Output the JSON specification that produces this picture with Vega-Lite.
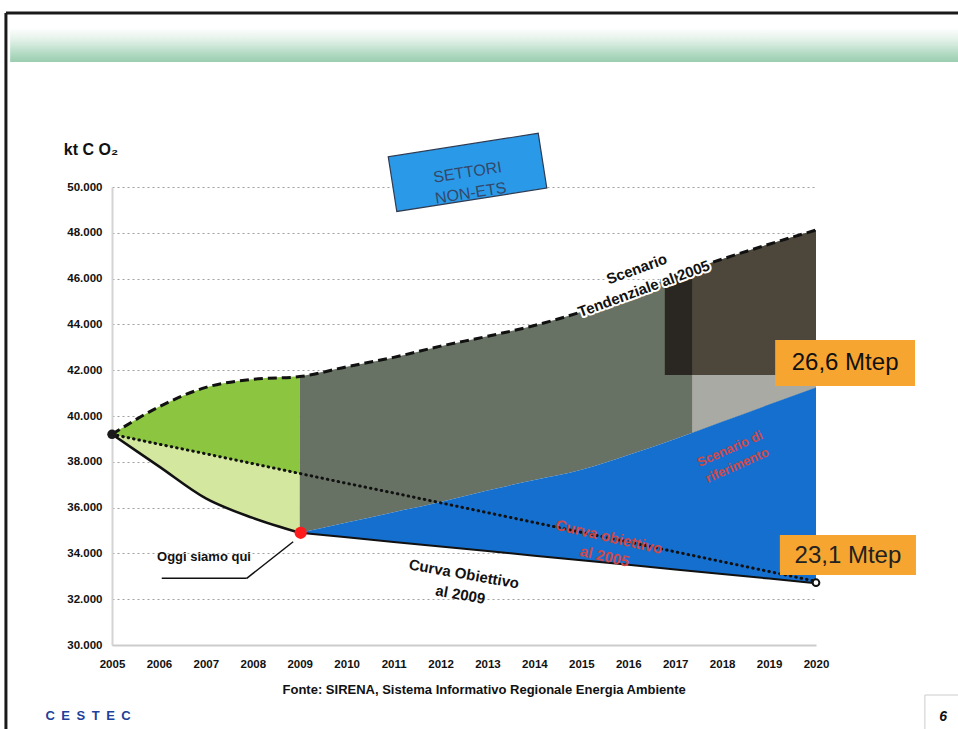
{
  "$schema": "https://vega.github.io/schema/vega-lite/v6.json",
  "width": 704,
  "height": 458,
  "autosize": {"type": "none"},
  "padding": {"left": 112, "top": 187, "right": 142, "bottom": 84},
  "background": "white",
  "config": {"view": {"stroke": null}, "font": "Liberation Sans"},
  "datasets": {
    "series": [
      {"year": 2005, "tend": 39200, "curve": 39200, "ob05": 39200},
      {"year": 2006, "tend": 40400, "curve": 37800, "ob05": 38770},
      {"year": 2007, "tend": 41250, "curve": 36400, "ob05": 38350},
      {"year": 2008, "tend": 41600, "curve": 35550, "ob05": 37920},
      {"year": 2009, "tend": 41720, "curve": 34900, "ob05": 37490, "ob09": 34900, "rif": 34900},
      {"year": 2010, "tend": 42150, "ob05": 37060, "ob09": 34700, "rif": 35350},
      {"year": 2011, "tend": 42560, "ob05": 36640, "ob09": 34500, "rif": 35800},
      {"year": 2012, "tend": 43050, "ob05": 36210, "ob09": 34300, "rif": 36250},
      {"year": 2013, "tend": 43480, "ob05": 35780, "ob09": 34100, "rif": 36750},
      {"year": 2014, "tend": 43950, "ob05": 35350, "ob09": 33900, "rif": 37200},
      {"year": 2015, "tend": 44550, "ob05": 34920, "ob09": 33700, "rif": 37650},
      {"year": 2016, "tend": 45300, "ob05": 34500, "ob09": 33500, "rif": 38300},
      {"year": 2017, "tend": 46150, "ob05": 34070, "ob09": 33300, "rif": 39000},
      {"year": 2018, "tend": 46850, "ob05": 33640, "ob09": 33100, "rif": 39750},
      {"year": 2019, "tend": 47500, "ob05": 33210, "ob09": 32900, "rif": 40500},
      {"year": 2020, "tend": 48120, "ob05": 32780, "ob09": 32700, "rif": 41250}
    ],
    "darkhatch": [
      {"year": 2016.78, "top": 45960, "bottom": 41790},
      {"year": 2017, "top": 46150, "bottom": 41790},
      {"year": 2018, "top": 46850, "bottom": 41790},
      {"year": 2019, "top": 47500, "bottom": 41790},
      {"year": 2020, "top": 48120, "bottom": 41790}
    ],
    "darkstrip": [
      {"year": 2016.78, "top": 45960, "bottom": 41790},
      {"year": 2017, "top": 46150, "bottom": 41790},
      {"year": 2017.36, "top": 46400, "bottom": 41790}
    ],
    "lighthatch": [
      {"year": 2017.36, "top": 41790, "bottom": 39270},
      {"year": 2018, "top": 41790, "bottom": 39750},
      {"year": 2019, "top": 41790, "bottom": 40500},
      {"year": 2020, "top": 41790, "bottom": 41250}
    ]
  },
  "layer": [
    {
      "data": {"name": "series"},
      "transform": [{"filter": "datum.year <= 2009"}],
      "mark": {"type": "area", "interpolate": "monotone", "color": "#d4e79e", "opacity": 1},
      "encoding": {
        "x": {
          "field": "year", "type": "quantitative",
          "scale": {"domain": [2005, 2020], "nice": false, "zero": false},
          "axis": {
            "values": [2005, 2006, 2007, 2008, 2009, 2010, 2011, 2012, 2013, 2014, 2015, 2016, 2017, 2018, 2019, 2020],
            "format": "d", "title": null, "grid": false, "ticks": false,
            "labelFontWeight": "bold", "labelFontSize": 11.5, "labelColor": "#111111",
            "labelPadding": 13, "domainColor": "#cccccc", "domainWidth": 2, "labelFlush": false
          }
        },
        "y": {
          "field": "ob05", "type": "quantitative",
          "scale": {"domain": [30000, 50000], "nice": false, "zero": false},
          "axis": {
            "values": [30000, 32000, 34000, 36000, 38000, 40000, 42000, 44000, 46000, 48000, 50000],
            "labelExpr": "replace(format(datum.value, ','), ',', '.')",
            "title": null, "grid": true, "gridColor": "#a0a0a0", "gridDash": [2, 3], "gridWidth": 1,
            "ticks": false, "labelFontWeight": "bold", "labelFontSize": 11.5, "labelColor": "#111111",
            "labelPadding": 10, "domainColor": "#d4d4d4", "domainWidth": 2
          }
        },
        "y2": {"field": "curve"}
      }
    },
    {
      "data": {"name": "series"},
      "transform": [{"filter": "datum.year <= 2009"}],
      "mark": {"type": "area", "interpolate": "monotone", "color": "#8cc540", "opacity": 1},
      "encoding": {
        "x": {"field": "year", "type": "quantitative"},
        "y": {"field": "tend", "type": "quantitative"},
        "y2": {"field": "ob05"}
      }
    },
    {
      "data": {"name": "series"},
      "transform": [{"filter": "datum.year >= 2009"}],
      "mark": {"type": "area", "interpolate": "monotone", "color": "#687264", "opacity": 1},
      "encoding": {
        "x": {"field": "year", "type": "quantitative"},
        "y": {"field": "tend", "type": "quantitative"},
        "y2": {"field": "rif"}
      }
    },
    {
      "data": {"name": "darkhatch"},
      "mark": {"type": "area", "color": "#4c463b", "opacity": 1},
      "encoding": {
        "x": {"field": "year", "type": "quantitative"},
        "y": {"field": "top", "type": "quantitative"},
        "y2": {"field": "bottom"}
      }
    },
    {
      "data": {"name": "darkstrip"},
      "mark": {"type": "area", "color": "#2a2722", "opacity": 1},
      "encoding": {
        "x": {"field": "year", "type": "quantitative"},
        "y": {"field": "top", "type": "quantitative"},
        "y2": {"field": "bottom"}
      }
    },
    {
      "data": {"name": "lighthatch"},
      "mark": {"type": "area", "color": "#a9aaa3", "opacity": 1},
      "encoding": {
        "x": {"field": "year", "type": "quantitative"},
        "y": {"field": "top", "type": "quantitative"},
        "y2": {"field": "bottom"}
      }
    },
    {
      "data": {"name": "series"},
      "transform": [{"filter": "datum.year >= 2009"}],
      "mark": {"type": "area", "interpolate": "monotone", "color": "#156fce", "opacity": 1},
      "encoding": {
        "x": {"field": "year", "type": "quantitative"},
        "y": {"field": "rif", "type": "quantitative"},
        "y2": {"field": "ob09"}
      }
    },
    {
      "data": {"name": "series"},
      "mark": {"type": "line", "color": "#111111", "strokeWidth": 3, "strokeDash": [0.5, 5], "strokeCap": "round"},
      "encoding": {
        "x": {"field": "year", "type": "quantitative"},
        "y": {"field": "ob05", "type": "quantitative"}
      }
    },
    {
      "data": {"name": "series"},
      "mark": {"type": "line", "interpolate": "monotone", "color": "#111111", "strokeWidth": 3, "strokeDash": [9, 5]},
      "encoding": {
        "x": {"field": "year", "type": "quantitative"},
        "y": {"field": "tend", "type": "quantitative"}
      }
    },
    {
      "data": {"name": "series"},
      "transform": [{"filter": "datum.year <= 2009"}],
      "mark": {"type": "line", "interpolate": "monotone", "color": "#111111", "strokeWidth": 2.5},
      "encoding": {
        "x": {"field": "year", "type": "quantitative"},
        "y": {"field": "curve", "type": "quantitative"}
      }
    },
    {
      "data": {"name": "series"},
      "transform": [{"filter": "datum.year >= 2009"}],
      "mark": {"type": "line", "color": "#111111", "strokeWidth": 2},
      "encoding": {
        "x": {"field": "year", "type": "quantitative"},
        "y": {"field": "ob09", "type": "quantitative"}
      }
    },
    {
      "data": {"values": [{}]},
      "mark": {"type": "point", "filled": true, "size": 90, "color": "#1a1a1a", "opacity": 1},
      "encoding": {
        "x": {"datum": 2005, "type": "quantitative"},
        "y": {"datum": 39200, "type": "quantitative"}
      }
    },
    {
      "data": {"values": [{}]},
      "mark": {"type": "point", "filled": true, "size": 150, "color": "#ff1b1b", "opacity": 1},
      "encoding": {
        "x": {"datum": 2009.02, "type": "quantitative"},
        "y": {"datum": 34900, "type": "quantitative"}
      }
    },
    {
      "data": {"values": [{}]},
      "mark": {"type": "point", "filled": true, "size": 45, "fill": "#ffffff", "stroke": "#111111", "strokeWidth": 2, "opacity": 1},
      "encoding": {
        "x": {"datum": 2020, "type": "quantitative"},
        "y": {"datum": 32720, "type": "quantitative"}
      }
    },
    {
      "data": {"values": [{}]},
      "mark": {"type": "rule", "color": "#111111", "strokeWidth": 1.5},
      "encoding": {
        "x": {"datum": 2006.06, "type": "quantitative"},
        "x2": {"datum": 2007.87},
        "y": {"datum": 32910, "type": "quantitative"}
      }
    },
    {
      "data": {"values": [{}]},
      "mark": {"type": "rule", "color": "#111111", "strokeWidth": 1.5},
      "encoding": {
        "x": {"datum": 2007.87, "type": "quantitative"},
        "x2": {"datum": 2008.86},
        "y": {"datum": 32910, "type": "quantitative"},
        "y2": {"datum": 34510}
      }
    },
    {
      "data": {"values": [{}]},
      "mark": {"type": "rect", "color": "#f6a531", "opacity": 1},
      "encoding": {
        "x": {"datum": 2019.13, "type": "quantitative"},
        "x2": {"datum": 2022.11},
        "y": {"datum": 43319, "type": "quantitative"},
        "y2": {"datum": 41311}
      }
    },
    {
      "data": {"values": [{}]},
      "mark": {"type": "rect", "color": "#f6a531", "opacity": 1},
      "encoding": {
        "x": {"datum": 2019.23, "type": "quantitative"},
        "x2": {"datum": 2022.13},
        "y": {"datum": 34804, "type": "quantitative"},
        "y2": {"datum": 33057}
      }
    },
    {
      "data": {"values": [{}]},
      "mark": {"type": "text", "text": "26,6 Mtep", "fontSize": 24, "color": "#111111", "align": "center", "baseline": "middle"},
      "encoding": {
        "x": {"datum": 2020.62, "type": "quantitative"},
        "y": {"datum": 42315, "type": "quantitative"}
      }
    },
    {
      "data": {"values": [{}]},
      "mark": {"type": "text", "text": "23,1 Mtep", "fontSize": 24, "color": "#222222", "align": "center", "baseline": "middle"},
      "encoding": {
        "x": {"datum": 2020.68, "type": "quantitative"},
        "y": {"datum": 33887, "type": "quantitative"}
      }
    },
    {
      "data": {"values": [{}]},
      "mark": {"type": "point", "shape": "M-1,-0.365L1,-0.365L1,0.365L-1,0.365Z", "size": 23043, "angle": -8.9, "filled": true, "fill": "#2a9ae8", "stroke": "#2f3b52", "strokeWidth": 1.2, "opacity": 1},
      "encoding": {
        "x": {"datum": 2012.575, "type": "quantitative"},
        "y": {"datum": 50638, "type": "quantitative"}
      }
    },
    {
      "data": {"values": [{}]},
      "mark": {"type": "text", "text": ["SETTORI", "NON-ETS"], "fontSize": 16, "lineHeight": 21, "angle": -8.9, "color": "#34486a", "align": "center", "baseline": "middle"},
      "encoding": {
        "x": {"datum": 2012.575, "type": "quantitative"},
        "y": {"datum": 50638, "type": "quantitative"}
      }
    },
    {
      "data": {"values": [{}]},
      "mark": {"type": "text", "text": ["Scenario", "Tendenziale al 2005"], "fontSize": 15, "fontWeight": "bold", "lineHeight": 21, "angle": -20, "color": "#ffffff", "stroke": "#ffffff", "strokeWidth": 4, "strokeJoin": "round", "align": "center", "baseline": "middle"},
      "encoding": {
        "x": {"datum": 2016.18, "type": "quantitative"},
        "y": {"datum": 46420, "type": "quantitative"}
      }
    },
    {
      "data": {"values": [{}]},
      "mark": {"type": "text", "text": ["Scenario", "Tendenziale al 2005"], "fontSize": 15, "fontWeight": "bold", "lineHeight": 21, "angle": -20, "color": "#111111", "align": "center", "baseline": "middle"},
      "encoding": {
        "x": {"datum": 2016.18, "type": "quantitative"},
        "y": {"datum": 46420, "type": "quantitative"}
      }
    },
    {
      "data": {"values": [{}]},
      "mark": {"type": "text", "text": ["Curva Obiettivo", "al 2009"], "fontSize": 15, "fontWeight": "bold", "lineHeight": 21, "angle": 10, "color": "#111111", "align": "center", "baseline": "middle"},
      "encoding": {
        "x": {"datum": 2012.5, "type": "quantitative"},
        "y": {"datum": 33100, "type": "quantitative"}
      }
    },
    {
      "data": {"values": [{}]},
      "mark": {"type": "text", "text": ["Scenario di", "riferimento"], "fontSize": 13, "fontWeight": "bold", "lineHeight": 18, "angle": -24, "color": "#d04848", "align": "center", "baseline": "middle"},
      "encoding": {
        "x": {"datum": 2018.17, "type": "quantitative"},
        "y": {"datum": 38560, "type": "quantitative"}
      }
    },
    {
      "data": {"values": [{}]},
      "mark": {"type": "text", "text": ["Curva obiettivo", "al 2005"], "fontSize": 15, "fontWeight": "bold", "lineHeight": 20, "angle": 13, "color": "#d04848", "align": "center", "baseline": "middle"},
      "encoding": {
        "x": {"datum": 2015.59, "type": "quantitative"},
        "y": {"datum": 34716, "type": "quantitative"}
      }
    },
    {
      "data": {"values": [{}]},
      "mark": {"type": "text", "text": "Oggi siamo qui", "fontSize": 13, "fontWeight": "bold", "color": "#111111", "align": "center", "baseline": "middle"},
      "encoding": {
        "x": {"datum": 2006.96, "type": "quantitative"},
        "y": {"datum": 33821, "type": "quantitative"}
      }
    },
    {
      "data": {"values": [{}]},
      "mark": {"type": "text", "text": "kt C O₂", "fontSize": 16, "fontWeight": "bold", "color": "#111111", "align": "center", "baseline": "middle"},
      "encoding": {
        "x": {"datum": 2004.55, "type": "quantitative"},
        "y": {"datum": 51617, "type": "quantitative"}
      }
    },
    {
      "data": {"values": [{}]},
      "mark": {"type": "text", "text": "Fonte: SIRENA, Sistema Informativo Regionale Energia Ambiente", "fontSize": 13, "fontWeight": "bold", "color": "#111111", "align": "center", "baseline": "middle"},
      "encoding": {
        "x": {"datum": 2012.93, "type": "quantitative"},
        "y": {"datum": 28035, "type": "quantitative"}
      }
    },
    {
      "data": {"values": [{}]},
      "mark": {"type": "text", "text": "C\u2002E\u2002S\u2002T\u2002E\u2002C", "fontSize": 13, "fontWeight": "bold", "color": "#20409a", "align": "center", "baseline": "middle"},
      "encoding": {
        "x": {"datum": 2004.49, "type": "quantitative"},
        "y": {"datum": 26900, "type": "quantitative"}
      }
    },
    {
      "data": {"values": [{}]},
      "mark": {"type": "rect", "filled": false, "stroke": "#cccccc", "strokeWidth": 1},
      "encoding": {
        "x": {"datum": 2022.32, "type": "quantitative"},
        "x2": {"datum": 2023.3},
        "y": {"datum": 27816, "type": "quantitative"},
        "y2": {"datum": 26300}
      }
    },
    {
      "data": {"values": [{}]},
      "mark": {"type": "text", "text": "6", "fontSize": 14, "fontWeight": "bold", "fontStyle": "italic", "color": "#111111", "align": "center", "baseline": "middle"},
      "encoding": {
        "x": {"datum": 2022.71, "type": "quantitative"},
        "y": {"datum": 26856, "type": "quantitative"}
      }
    },
    {
      "data": {"values": [{}]},
      "mark": {"type": "rect", "opacity": 1, "color": {"gradient": "linear", "x1": 0, "y1": 0, "x2": 0, "y2": 1, "stops": [{"offset": 0, "color": "#ffffff"}, {"offset": 0.35, "color": "#e2f1e8"}, {"offset": 0.85, "color": "#a8d5bb"}, {"offset": 1, "color": "#9ccdb1"}]}},
      "encoding": {
        "x": {"datum": 2002.83, "type": "quantitative"},
        "x2": {"datum": 2023.3},
        "y": {"datum": 56944, "type": "quantitative"},
        "y2": {"datum": 55460}
      }
    },
    {
      "data": {"values": [{}]},
      "mark": {"type": "rule", "color": "#1a1a1a", "strokeWidth": 3},
      "encoding": {
        "x": {"datum": 2002.74, "type": "quantitative"},
        "x2": {"datum": 2023.3},
        "y": {"datum": 57600, "type": "quantitative"}
      }
    },
    {
      "data": {"values": [{}]},
      "mark": {"type": "rule", "color": "#1a1a1a", "strokeWidth": 3},
      "encoding": {
        "x": {"datum": 2002.74, "type": "quantitative"},
        "y": {"datum": 57600, "type": "quantitative"},
        "y2": {"datum": 26300}
      }
    }
  ]
}
